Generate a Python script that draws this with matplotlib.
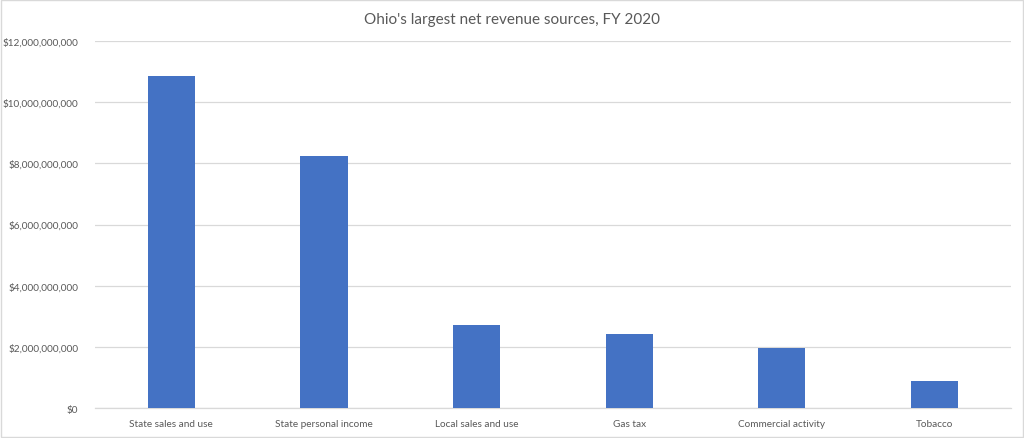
import matplotlib.pyplot as plt
from matplotlib.ticker import FuncFormatter

plt.rcParams['font.family'] = ['Lato', 'DejaVu Sans']

categories = ['State sales and use', 'State personal income', 'Local sales and use',
              'Gas tax', 'Commercial activity', 'Tobacco']
revenue = [10.86e9, 8.25e9, 2.71e9, 2.42e9, 1.96e9, 0.88e9]
yticks = [0, 2e9, 4e9, 6e9, 8e9, 10e9, 12e9]

fig = plt.figure(figsize=(10.24, 4.39), dpi=100)
ax = fig.add_axes([0.0928, 0.0683, 0.8942, 0.8360])

x = range(len(categories))
ax.bar(x, revenue, width=0.31, color='#4472C4', zorder=3)

ax.set_xlim(-0.5, len(categories) - 0.5)
ax.set_ylim(0, 12e9)
ax.set_yticks(yticks)
ax.yaxis.set_major_formatter(FuncFormatter(lambda v, p: '${:,.0f}'.format(v)))
ax.set_xticks(list(x))
ax.set_xticklabels(categories)
ax.tick_params(axis='both', length=0, labelsize=7.2, colors='#595959', pad=8)
ax.tick_params(axis='y', pad=12)
ax.grid(axis='y', color='#D9D9D9', linewidth=0.9, zorder=0)

for s in ['top', 'right', 'left']:
    ax.spines[s].set_visible(False)
ax.spines['bottom'].set_color('#D9D9D9')
ax.spines['bottom'].set_linewidth(0.9)

fig.text(0.5, 0.955, "Ohio's largest net revenue sources, FY 2020",
         ha='center', va='center', fontsize=11, color='#595959')

# light frame around the chart
fig.patches.append(plt.Rectangle((0.001, 0.003), 0.998, 0.994, transform=fig.transFigure,
                                 fill=False, edgecolor='#D9D9D9', linewidth=1))

fig.savefig('out.png', dpi=100)
